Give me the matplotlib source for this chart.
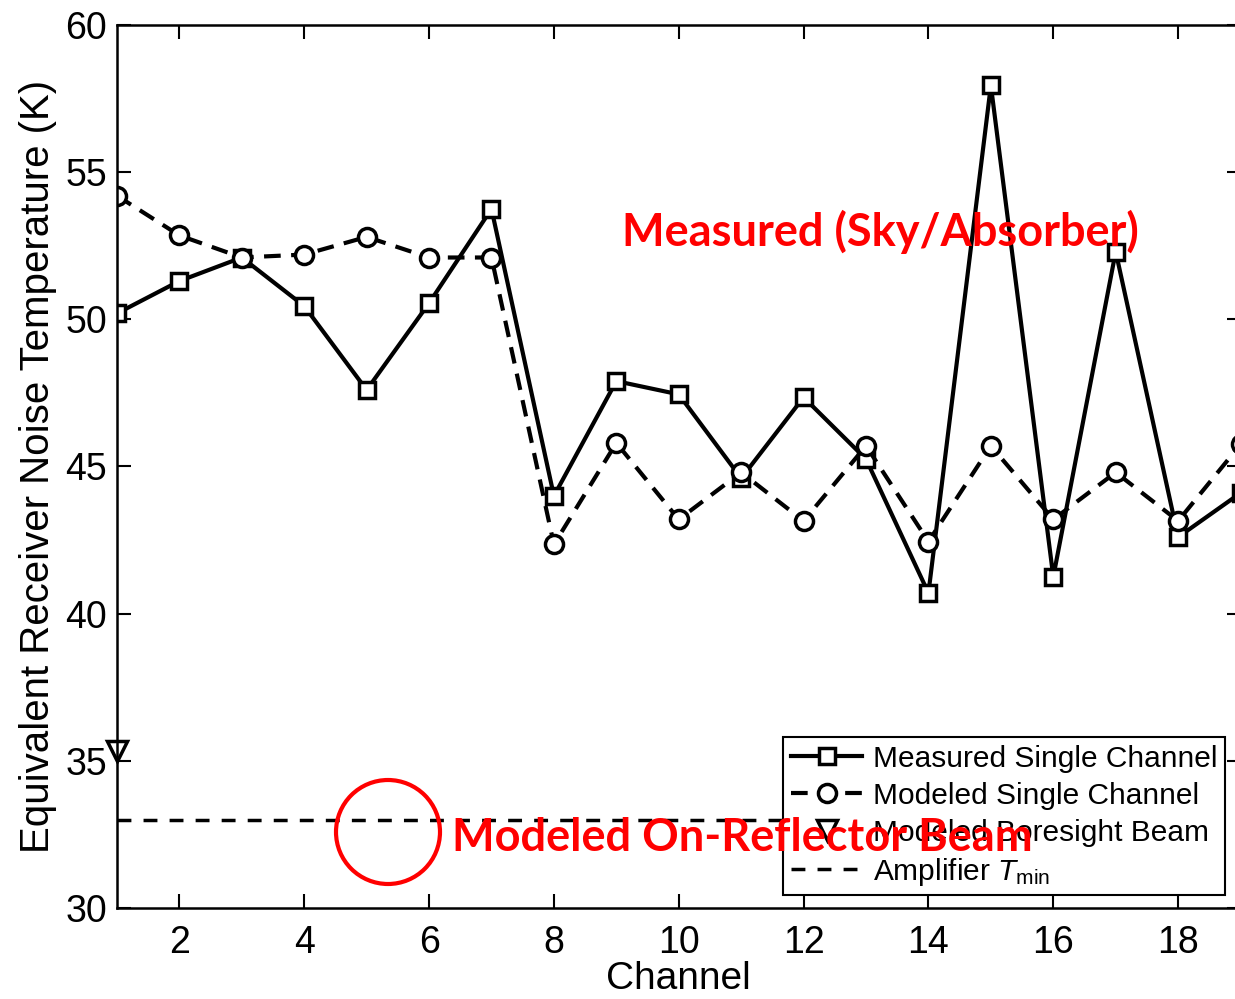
import numpy as np
import matplotlib
matplotlib.use("Agg")
from matplotlib import pyplot as plt
from matplotlib.patches import Circle

channels = np.arange(1, 20)
measured = [50.2, 51.3, 52.1, 50.45, 47.6, 50.55, 53.75, 44.0, 47.9, 47.45,
            44.6, 47.35, 45.25, 40.7, 57.95, 41.25, 52.3, 42.6, 44.1]
modeled = [54.2, 52.85, 52.1, 52.2, 52.8, 52.1, 52.1, 42.35, 45.8, 43.2,
           44.8, 43.15, 45.7, 42.45, 45.7, 43.2, 44.8, 43.15, 45.75]
boresight_ch = [1]
boresight = [35.35]
t_min = 33.0

plt.rcParams["font.family"] = ["Liberation Sans", "DejaVu Sans"]
plt.rcParams["mathtext.fontset"] = "custom"
plt.rcParams["mathtext.rm"] = "Liberation Sans"
plt.rcParams["mathtext.it"] = "Liberation Sans:italic"


def main():
    fig = plt.figure(figsize=(12.35, 9.99), dpi=100)
    ax = fig.add_axes([0.0947, 0.0911, 0.9098, 0.8839])

    ax.plot(channels, measured, "-", color="k", lw=3, marker="s", ms=11,
            mfc="white", mec="k", mew=2.5, label="Measured Single Channel")
    ax.plot(channels, modeled, "--", color="k", lw=3, dashes=(4, 2.5),
            marker="o", ms=13, mfc="white", mec="k", mew=2.5,
            label="Modeled Single Channel")
    ax.plot(boresight_ch, boresight, ls="none", marker="v", ms=14,
            mfc="white", mec="k", mew=2.5, label="Modeled Boresight Beam",
            clip_on=False)
    ax.axhline(t_min, color="k", lw=2.5, dashes=(4, 3.5),
               label="Amplifier $T_{\\mathrm{min}}$")

    ax.set_xlim(1, 19)
    ax.set_ylim(30, 60)
    ax.set_xticks(range(2, 19, 2))
    ax.set_yticks(range(30, 61, 5))
    ax.tick_params(direction="in", length=10, width=1.5, labelsize=27,
                   top=True, right=True)
    ax.tick_params(axis="x", pad=12)
    ax.tick_params(axis="y", pad=7)
    for s in ax.spines.values():
        s.set_linewidth(1.8)
    ax.set_xlabel("Channel", fontsize=28, labelpad=0)
    ax.set_ylabel("Equivalent Receiver Noise Temperature (K)", fontsize=29,
                  labelpad=6)

    leg = ax.legend(loc="lower right", bbox_to_anchor=(0.986, 0.0147),
                    fontsize=21.5, numpoints=1, handlelength=2.4,
                    handletextpad=0.35, labelspacing=0.3, borderpad=0.25,
                    fancybox=False, framealpha=1, edgecolor="k",
                    borderaxespad=0)
    leg.get_frame().set_linewidth(1.5)
    leg.set_zorder(4)

    ax.text(0.6795, 0.766, "Measured (Sky/Absorber)", transform=ax.transAxes,
            color="red", fontsize=32.5, fontweight="bold", family="Lato",
            ha="center", va="center", zorder=10)
    ax.text(0.298, 0.079, "Modeled On-Reflector Beam", transform=ax.transAxes,
            color="red", fontsize=32.5, fontweight="bold", family="Lato",
            ha="left", va="center", zorder=10)
    circ = Circle((388, 999 - 832), 52, transform=None, fill=False,
                  ec="red", lw=3, zorder=10)
    ax.add_artist(circ)

    fig.savefig("out.png", dpi=100)


if __name__ == "__main__":
    main()
